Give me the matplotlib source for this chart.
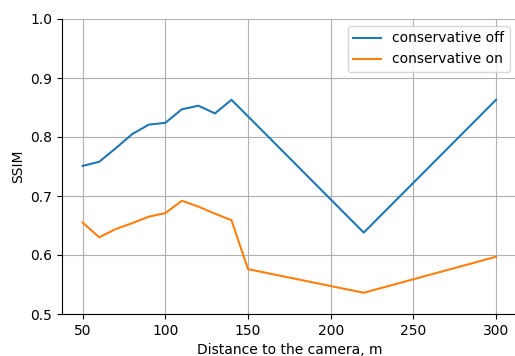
import matplotlib
matplotlib.use("Agg")
import matplotlib.pyplot as plt

distance = [50, 60, 70, 80, 90, 100, 110, 120, 130, 140, 150, 220, 300]
ssim_off = [0.751, 0.758, 0.781, 0.805, 0.821, 0.824, 0.847, 0.853, 0.840, 0.863, 0.835, 0.638, 0.863]
ssim_on = [0.655, 0.630, 0.644, 0.654, 0.665, 0.671, 0.692, 0.682, 0.670, 0.659, 0.576, 0.536, 0.597]

fig = plt.figure(figsize=(5.15, 3.56), dpi=100)
ax = fig.add_axes([62/515, 1-314/356, (516.7-62)/515, (314-19)/356])
ax.plot(distance, ssim_off, label="conservative off", color="#1f77b4", lw=1.5)
ax.plot(distance, ssim_on, label="conservative on", color="#ff7f0e", lw=1.5)
ax.set_xlim(37.5, 312.5)
ax.set_ylim(0.5, 1.0)
ax.set_xticks([50, 100, 150, 200, 250, 300])
ax.set_yticks([0.5, 0.6, 0.7, 0.8, 0.9, 1.0])
ax.grid(True)
ax.spines["top"].set_visible(False)
ax.spines["right"].set_visible(False)
ax.set_xlabel("Distance to the camera, m")
ax.set_ylabel("SSIM")
ax.legend(loc="upper right")
fig.savefig("out.png", dpi=100)
